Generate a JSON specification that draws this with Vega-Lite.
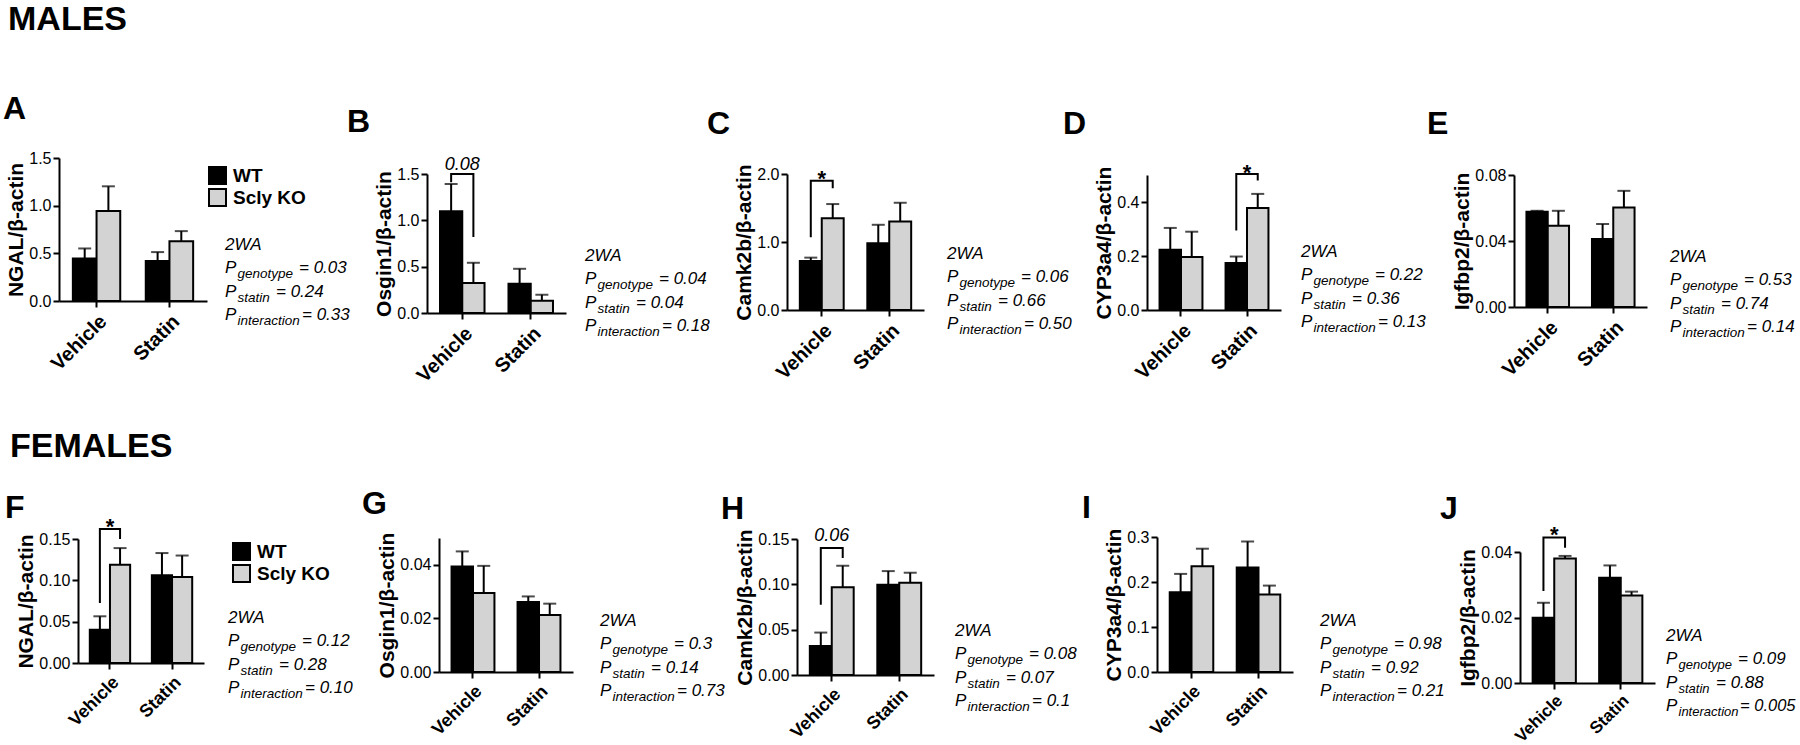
{
"$schema": "https://vega.github.io/schema/vega-lite/v6.json",
"padding": {"left": 3, "top": 2, "right": 0, "bottom": 0},
"spacing": 43,
"resolve": {"scale": {"fill": "independent", "x": "independent", "y": "independent", "xOffset": "independent"}, "legend": {"fill": "independent"}},
"vconcat": [
{
 "title": {"text": "MALES", "anchor": "start", "frame": "group", "dx": -51, "offset": 29.5, "fontSize": 34, "fontWeight": "bold", "baseline": "alphabetic"},
 "bounds": "flush", "spacing": 20,
 "resolve": {"scale": {"fill": "independent", "x": "independent", "y": "independent", "xOffset": "independent"}, "legend": {"fill": "independent"}},
 "hconcat": [
    {"width": 148, "height": 143,
     "title": {"text": "A", "anchor": "start", "frame": "group", "dx": -56, "offset": -1, "fontSize": 32, "fontWeight": "bold", "baseline": "alphabetic"},
     "layer": [
      {"data": {"values": [
       {"cond": "Vehicle", "genotype": "WT", "mean": 0.446, "hi": 0.551},
       {"cond": "Vehicle", "genotype": "Scly KO", "mean": 0.945, "hi": 1.203},
       {"cond": "Statin", "genotype": "WT", "mean": 0.419, "hi": 0.513},
       {"cond": "Statin", "genotype": "Scly KO", "mean": 0.628, "hi": 0.733}]},
       "encoding": {"x": {"field": "cond", "type": "nominal", "scale": {"domain": ["Vehicle", "Statin"], "paddingInner": 0.35, "paddingOuter": 0.19}, "axis": {"title": null}},
        "xOffset": {"field": "genotype", "type": "nominal", "scale": {"domain": ["WT", "Scly KO"], "paddingInner": 0, "paddingOuter": 0}}},
       "layer": [
        {"mark": {"type": "rule", "strokeWidth": 2, "color": "black"}, "encoding": {"y": {"field": "mean", "type": "quantitative", "scale": {"domain": [0, 1.5], "range": [143, 0], "nice": false}}, "y2": {"field": "hi"}}},
        {"mark": {"type": "tick", "orient": "horizontal", "thickness": 2, "size": 13, "color": "black"}, "encoding": {"y": {"field": "hi", "type": "quantitative", "scale": {"domain": [0, 1.5], "range": [143, 0], "nice": false}}}},
        {"mark": {"type": "bar", "stroke": "black", "strokeWidth": 2}, "encoding": {"y": {"field": "mean", "type": "quantitative", "scale": {"domain": [0, 1.5], "range": [143, 0], "nice": false}, "axis": {"title": "NGAL/β-actin", "values": [0, 0.5, 1, 1.5], "format": ".1f"}},
          "fill": {"field": "genotype", "type": "nominal", "scale": {"domain": ["WT", "Scly KO"], "range": ["black", "#d3d3d3"]},
           "legend": {"orient": "none", "legendX": 149, "legendY": 8, "title": null, "padding": 0, "symbolType": "square", "symbolSize": 289, "symbolStrokeColor": "black", "symbolStrokeWidth": 2, "labelFontSize": 19, "labelFontWeight": "bold", "labelColor": "black", "rowPadding": -3, "labelOffset": 6}}}}
       ]}
     ]},
    {"width": 180, "height": 143,
     "data": {"values": [
       {"line": "2WA", "head": "2WA"},
       {"line": "genotype", "head": "P", "sub": "genotype", "val": "= 0.03"},
       {"line": "statin", "head": "P", "sub": "statin", "val": "= 0.24"},
       {"line": "interaction", "head": "P", "sub": "interaction", "val": "= 0.33"}]},
     "encoding": {"y": {"field": "line", "type": "ordinal", "scale": {"type": "point", "domain": ["2WA", "genotype", "statin", "interaction"], "range": [92, 162], "padding": 0}, "axis": null}},
     "layer": [
      {"mark": {"type": "text", "x": -2, "align": "left", "baseline": "alphabetic", "fontSize": 17, "fontStyle": "italic"}, "encoding": {"text": {"field": "head"}}},
      {"transform": [{"filter": "datum.sub"}], "mark": {"type": "text", "x": -2, "dx": 12.5, "dy": 5, "align": "left", "baseline": "alphabetic", "fontSize": 13.5, "fontStyle": "italic"}, "encoding": {"text": {"field": "sub"}}},
      {"transform": [{"filter": "datum.line === 'genotype'"}], "mark": {"type": "text", "x": -2, "dx": 74, "align": "left", "baseline": "alphabetic", "fontSize": 17, "fontStyle": "italic"}, "encoding": {"text": {"field": "val"}}},
      {"transform": [{"filter": "datum.line === 'statin'"}], "mark": {"type": "text", "x": -2, "dx": 51, "align": "left", "baseline": "alphabetic", "fontSize": 17, "fontStyle": "italic"}, "encoding": {"text": {"field": "val"}}},
      {"transform": [{"filter": "datum.line === 'interaction'"}], "mark": {"type": "text", "x": -2, "dx": 77, "align": "left", "baseline": "alphabetic", "fontSize": 17, "fontStyle": "italic"}, "encoding": {"text": {"field": "val"}}}
     ]},
    {"width": 139, "height": 155,
     "title": {"text": "B", "anchor": "start", "frame": "group", "dx": -80, "offset": -8, "fontSize": 32, "fontWeight": "bold", "baseline": "alphabetic"},
     "layer": [
      {"data": {"values": [
       {"cond": "Vehicle", "genotype": "WT", "mean": 1.098, "hi": 1.392},
       {"cond": "Vehicle", "genotype": "Scly KO", "mean": 0.323, "hi": 0.542},
       {"cond": "Statin", "genotype": "WT", "mean": 0.316, "hi": 0.477},
       {"cond": "Statin", "genotype": "Scly KO", "mean": 0.133, "hi": 0.197}]},
       "encoding": {"x": {"field": "cond", "type": "nominal", "scale": {"domain": ["Vehicle", "Statin"], "paddingInner": 0.35, "paddingOuter": 0.19}, "axis": {"title": null}},
        "xOffset": {"field": "genotype", "type": "nominal", "scale": {"domain": ["WT", "Scly KO"], "paddingInner": 0, "paddingOuter": 0}}},
       "layer": [
        {"mark": {"type": "rule", "strokeWidth": 2, "color": "black"}, "encoding": {"y": {"field": "mean", "type": "quantitative", "scale": {"domain": [0, 1.5], "range": [155, 16], "nice": false}}, "y2": {"field": "hi"}}},
        {"mark": {"type": "tick", "orient": "horizontal", "thickness": 2, "size": 13, "color": "black"}, "encoding": {"y": {"field": "hi", "type": "quantitative", "scale": {"domain": [0, 1.5], "range": [155, 16], "nice": false}}}},
        {"mark": {"type": "bar", "stroke": "black", "strokeWidth": 2}, "encoding": {"y": {"field": "mean", "type": "quantitative", "scale": {"domain": [0, 1.5], "range": [155, 16], "nice": false}, "axis": {"title": "Osgin1/β-actin", "values": [0, 0.5, 1, 1.5], "format": ".1f"}},
          "fill": {"field": "genotype", "type": "nominal", "scale": {"domain": ["WT", "Scly KO"], "range": ["black", "#d3d3d3"]}, "legend": null}}}
       ]},
      {"data": {"values": [
         {"cond": "Vehicle", "genotype": "WT", "y": 1.41, "k": 1},
         {"cond": "Vehicle", "genotype": "WT", "y": 1.5, "k": 2},
         {"cond": "Vehicle", "genotype": "Scly KO", "y": 1.5, "k": 3},
         {"cond": "Vehicle", "genotype": "Scly KO", "y": 0.82, "k": 4}]},
       "mark": {"type": "line", "strokeWidth": 2, "color": "black"},
       "encoding": {"x": {"field": "cond", "type": "nominal", "scale": {"domain": ["Vehicle", "Statin"], "paddingInner": 0.35, "paddingOuter": 0.19}, "axis": {"title": null}},
        "xOffset": {"field": "genotype", "type": "nominal", "scale": {"domain": ["WT", "Scly KO"], "paddingInner": 0, "paddingOuter": 0}},
        "y": {"field": "y", "type": "quantitative", "scale": {"domain": [0, 1.5], "range": [155, 16], "nice": false}},
        "order": {"field": "k"}}},
      {"data": {"values": [{"cond": "Vehicle", "label": "0.08", "y": 1.54}]},
       "mark": {"type": "text", "fontSize": 18, "fontStyle": "italic", "baseline": "alphabetic"},
       "encoding": {"x": {"field": "cond", "type": "nominal", "scale": {"domain": ["Vehicle", "Statin"], "paddingInner": 0.35, "paddingOuter": 0.19}, "axis": {"title": null}},
        "y": {"field": "y", "type": "quantitative", "scale": {"domain": [0, 1.5], "range": [155, 16], "nice": false}},
        "text": {"field": "label"}}}
     ]},
    {"width": 181, "height": 155,
     "data": {"values": [
       {"line": "2WA", "head": "2WA"},
       {"line": "genotype", "head": "P", "sub": "genotype", "val": "= 0.04"},
       {"line": "statin", "head": "P", "sub": "statin", "val": "= 0.04"},
       {"line": "interaction", "head": "P", "sub": "interaction", "val": "= 0.18"}]},
     "encoding": {"y": {"field": "line", "type": "ordinal", "scale": {"type": "point", "domain": ["2WA", "genotype", "statin", "interaction"], "range": [103, 173], "padding": 0}, "axis": null}},
     "layer": [
      {"mark": {"type": "text", "x": -1, "align": "left", "baseline": "alphabetic", "fontSize": 17, "fontStyle": "italic"}, "encoding": {"text": {"field": "head"}}},
      {"transform": [{"filter": "datum.sub"}], "mark": {"type": "text", "x": -1, "dx": 12.5, "dy": 5, "align": "left", "baseline": "alphabetic", "fontSize": 13.5, "fontStyle": "italic"}, "encoding": {"text": {"field": "sub"}}},
      {"transform": [{"filter": "datum.line === 'genotype'"}], "mark": {"type": "text", "x": -1, "dx": 74, "align": "left", "baseline": "alphabetic", "fontSize": 17, "fontStyle": "italic"}, "encoding": {"text": {"field": "val"}}},
      {"transform": [{"filter": "datum.line === 'statin'"}], "mark": {"type": "text", "x": -1, "dx": 51, "align": "left", "baseline": "alphabetic", "fontSize": 17, "fontStyle": "italic"}, "encoding": {"text": {"field": "val"}}},
      {"transform": [{"filter": "datum.line === 'interaction'"}], "mark": {"type": "text", "x": -1, "dx": 77, "align": "left", "baseline": "alphabetic", "fontSize": 17, "fontStyle": "italic"}, "encoding": {"text": {"field": "val"}}}
     ]},
    {"width": 137, "height": 152,
     "title": {"text": "C", "anchor": "start", "frame": "group", "dx": -80, "offset": -8, "fontSize": 32, "fontWeight": "bold", "baseline": "alphabetic"},
     "layer": [
      {"data": {"values": [
       {"cond": "Vehicle", "genotype": "WT", "mean": 0.722, "hi": 0.77},
       {"cond": "Vehicle", "genotype": "Scly KO", "mean": 1.351, "hi": 1.558},
       {"cond": "Statin", "genotype": "WT", "mean": 0.983, "hi": 1.253},
       {"cond": "Statin", "genotype": "Scly KO", "mean": 1.302, "hi": 1.577}]},
       "encoding": {"x": {"field": "cond", "type": "nominal", "scale": {"domain": ["Vehicle", "Statin"], "paddingInner": 0.35, "paddingOuter": 0.19}, "axis": {"title": null}},
        "xOffset": {"field": "genotype", "type": "nominal", "scale": {"domain": ["WT", "Scly KO"], "paddingInner": 0, "paddingOuter": 0}}},
       "layer": [
        {"mark": {"type": "rule", "strokeWidth": 2, "color": "black"}, "encoding": {"y": {"field": "mean", "type": "quantitative", "scale": {"domain": [0, 2], "range": [152, 16], "nice": false}}, "y2": {"field": "hi"}}},
        {"mark": {"type": "tick", "orient": "horizontal", "thickness": 2, "size": 13, "color": "black"}, "encoding": {"y": {"field": "hi", "type": "quantitative", "scale": {"domain": [0, 2], "range": [152, 16], "nice": false}}}},
        {"mark": {"type": "bar", "stroke": "black", "strokeWidth": 2}, "encoding": {"y": {"field": "mean", "type": "quantitative", "scale": {"domain": [0, 2], "range": [152, 16], "nice": false}, "axis": {"title": "Camk2b/β-actin", "values": [0, 0.5, 1, 1.5, 2], "format": ".1f"}},
          "fill": {"field": "genotype", "type": "nominal", "scale": {"domain": ["WT", "Scly KO"], "range": ["black", "#d3d3d3"]}, "legend": null}}}
       ]},
      {"data": {"values": [
         {"cond": "Vehicle", "genotype": "WT", "y": 1.07, "k": 1},
         {"cond": "Vehicle", "genotype": "WT", "y": 1.9, "k": 2},
         {"cond": "Vehicle", "genotype": "Scly KO", "y": 1.9, "k": 3},
         {"cond": "Vehicle", "genotype": "Scly KO", "y": 1.79, "k": 4}]},
       "mark": {"type": "line", "strokeWidth": 2, "color": "black"},
       "encoding": {"x": {"field": "cond", "type": "nominal", "scale": {"domain": ["Vehicle", "Statin"], "paddingInner": 0.35, "paddingOuter": 0.19}, "axis": {"title": null}},
        "xOffset": {"field": "genotype", "type": "nominal", "scale": {"domain": ["WT", "Scly KO"], "paddingInner": 0, "paddingOuter": 0}},
        "y": {"field": "y", "type": "quantitative", "scale": {"domain": [0, 2], "range": [152, 16], "nice": false}},
        "order": {"field": "k"}}},
      {"data": {"values": [{"cond": "Vehicle", "label": "*", "y": 1.82}]},
       "mark": {"type": "text", "fontSize": 22, "fontWeight": "bold", "baseline": "alphabetic"},
       "encoding": {"x": {"field": "cond", "type": "nominal", "scale": {"domain": ["Vehicle", "Statin"], "paddingInner": 0.35, "paddingOuter": 0.19}, "axis": {"title": null}},
        "y": {"field": "y", "type": "quantitative", "scale": {"domain": [0, 2], "range": [152, 16], "nice": false}},
        "text": {"field": "label"}}}
     ]},
    {"width": 183, "height": 152,
     "data": {"values": [
       {"line": "2WA", "head": "2WA"},
       {"line": "genotype", "head": "P", "sub": "genotype", "val": "= 0.06"},
       {"line": "statin", "head": "P", "sub": "statin", "val": "= 0.66"},
       {"line": "interaction", "head": "P", "sub": "interaction", "val": "= 0.50"}]},
     "encoding": {"y": {"field": "line", "type": "ordinal", "scale": {"type": "point", "domain": ["2WA", "genotype", "statin", "interaction"], "range": [101, 171], "padding": 0}, "axis": null}},
     "layer": [
      {"mark": {"type": "text", "x": 3, "align": "left", "baseline": "alphabetic", "fontSize": 17, "fontStyle": "italic"}, "encoding": {"text": {"field": "head"}}},
      {"transform": [{"filter": "datum.sub"}], "mark": {"type": "text", "x": 3, "dx": 12.5, "dy": 5, "align": "left", "baseline": "alphabetic", "fontSize": 13.5, "fontStyle": "italic"}, "encoding": {"text": {"field": "sub"}}},
      {"transform": [{"filter": "datum.line === 'genotype'"}], "mark": {"type": "text", "x": 3, "dx": 74, "align": "left", "baseline": "alphabetic", "fontSize": 17, "fontStyle": "italic"}, "encoding": {"text": {"field": "val"}}},
      {"transform": [{"filter": "datum.line === 'statin'"}], "mark": {"type": "text", "x": 3, "dx": 51, "align": "left", "baseline": "alphabetic", "fontSize": 17, "fontStyle": "italic"}, "encoding": {"text": {"field": "val"}}},
      {"transform": [{"filter": "datum.line === 'interaction'"}], "mark": {"type": "text", "x": 3, "dx": 77, "align": "left", "baseline": "alphabetic", "fontSize": 17, "fontStyle": "italic"}, "encoding": {"text": {"field": "val"}}}
     ]},
    {"width": 134, "height": 152,
     "title": {"text": "D", "anchor": "start", "frame": "group", "dx": -84, "offset": -8, "fontSize": 32, "fontWeight": "bold", "baseline": "alphabetic"},
     "layer": [
      {"data": {"values": [
       {"cond": "Vehicle", "genotype": "WT", "mean": 0.223, "hi": 0.304},
       {"cond": "Vehicle", "genotype": "Scly KO", "mean": 0.196, "hi": 0.29},
       {"cond": "Statin", "genotype": "WT", "mean": 0.174, "hi": 0.198},
       {"cond": "Statin", "genotype": "Scly KO", "mean": 0.378, "hi": 0.43}]},
       "encoding": {"x": {"field": "cond", "type": "nominal", "scale": {"domain": ["Vehicle", "Statin"], "paddingInner": 0.35, "paddingOuter": 0.19}, "axis": {"title": null}},
        "xOffset": {"field": "genotype", "type": "nominal", "scale": {"domain": ["WT", "Scly KO"], "paddingInner": 0, "paddingOuter": 0}}},
       "layer": [
        {"mark": {"type": "rule", "strokeWidth": 2, "color": "black"}, "encoding": {"y": {"field": "mean", "type": "quantitative", "scale": {"domain": [0, 0.5], "range": [152, 17], "nice": false}}, "y2": {"field": "hi"}}},
        {"mark": {"type": "tick", "orient": "horizontal", "thickness": 2, "size": 13, "color": "black"}, "encoding": {"y": {"field": "hi", "type": "quantitative", "scale": {"domain": [0, 0.5], "range": [152, 17], "nice": false}}}},
        {"mark": {"type": "bar", "stroke": "black", "strokeWidth": 2}, "encoding": {"y": {"field": "mean", "type": "quantitative", "scale": {"domain": [0, 0.5], "range": [152, 17], "nice": false}, "axis": {"title": "CYP3a4/β-actin", "values": [0, 0.2, 0.4], "format": ".1f"}},
          "fill": {"field": "genotype", "type": "nominal", "scale": {"domain": ["WT", "Scly KO"], "range": ["black", "#d3d3d3"]}, "legend": null}}}
       ]},
      {"data": {"values": [
         {"cond": "Statin", "genotype": "WT", "y": 0.294, "k": 1},
         {"cond": "Statin", "genotype": "WT", "y": 0.504, "k": 2},
         {"cond": "Statin", "genotype": "Scly KO", "y": 0.504, "k": 3},
         {"cond": "Statin", "genotype": "Scly KO", "y": 0.48, "k": 4}]},
       "mark": {"type": "line", "strokeWidth": 2, "color": "black"},
       "encoding": {"x": {"field": "cond", "type": "nominal", "scale": {"domain": ["Vehicle", "Statin"], "paddingInner": 0.35, "paddingOuter": 0.19}, "axis": {"title": null}},
        "xOffset": {"field": "genotype", "type": "nominal", "scale": {"domain": ["WT", "Scly KO"], "paddingInner": 0, "paddingOuter": 0}},
        "y": {"field": "y", "type": "quantitative", "scale": {"domain": [0, 0.5], "range": [152, 17], "nice": false}},
        "order": {"field": "k"}}},
      {"data": {"values": [{"cond": "Statin", "label": "*", "y": 0.48}]},
       "mark": {"type": "text", "fontSize": 22, "fontWeight": "bold", "baseline": "alphabetic"},
       "encoding": {"x": {"field": "cond", "type": "nominal", "scale": {"domain": ["Vehicle", "Statin"], "paddingInner": 0.35, "paddingOuter": 0.19}, "axis": {"title": null}},
        "y": {"field": "y", "type": "quantitative", "scale": {"domain": [0, 0.5], "range": [152, 17], "nice": false}},
        "text": {"field": "label"}}}
     ]},
    {"width": 193, "height": 152,
     "data": {"values": [
       {"line": "2WA", "head": "2WA"},
       {"line": "genotype", "head": "P", "sub": "genotype", "val": "= 0.22"},
       {"line": "statin", "head": "P", "sub": "statin", "val": "= 0.36"},
       {"line": "interaction", "head": "P", "sub": "interaction", "val": "= 0.13"}]},
     "encoding": {"y": {"field": "line", "type": "ordinal", "scale": {"type": "point", "domain": ["2WA", "genotype", "statin", "interaction"], "range": [99, 169], "padding": 0}, "axis": null}},
     "layer": [
      {"mark": {"type": "text", "x": 0, "align": "left", "baseline": "alphabetic", "fontSize": 17, "fontStyle": "italic"}, "encoding": {"text": {"field": "head"}}},
      {"transform": [{"filter": "datum.sub"}], "mark": {"type": "text", "x": 0, "dx": 12.5, "dy": 5, "align": "left", "baseline": "alphabetic", "fontSize": 13.5, "fontStyle": "italic"}, "encoding": {"text": {"field": "sub"}}},
      {"transform": [{"filter": "datum.line === 'genotype'"}], "mark": {"type": "text", "x": 0, "dx": 74, "align": "left", "baseline": "alphabetic", "fontSize": 17, "fontStyle": "italic"}, "encoding": {"text": {"field": "val"}}},
      {"transform": [{"filter": "datum.line === 'statin'"}], "mark": {"type": "text", "x": 0, "dx": 51, "align": "left", "baseline": "alphabetic", "fontSize": 17, "fontStyle": "italic"}, "encoding": {"text": {"field": "val"}}},
      {"transform": [{"filter": "datum.line === 'interaction'"}], "mark": {"type": "text", "x": 0, "dx": 77, "align": "left", "baseline": "alphabetic", "fontSize": 17, "fontStyle": "italic"}, "encoding": {"text": {"field": "val"}}}
     ]},
    {"width": 133, "height": 149,
     "title": {"text": "E", "anchor": "start", "frame": "group", "dx": -87, "offset": -8, "fontSize": 32, "fontWeight": "bold", "baseline": "alphabetic"},
     "layer": [
      {"data": {"values": [
       {"cond": "Vehicle", "genotype": "WT", "mean": 0.0577, "hi": 0.0583},
       {"cond": "Vehicle", "genotype": "Scly KO", "mean": 0.0492, "hi": 0.0583},
       {"cond": "Statin", "genotype": "WT", "mean": 0.0412, "hi": 0.0503},
       {"cond": "Statin", "genotype": "Scly KO", "mean": 0.0603, "hi": 0.0704}]},
       "encoding": {"x": {"field": "cond", "type": "nominal", "scale": {"domain": ["Vehicle", "Statin"], "paddingInner": 0.35, "paddingOuter": 0.19}, "axis": {"title": null}},
        "xOffset": {"field": "genotype", "type": "nominal", "scale": {"domain": ["WT", "Scly KO"], "paddingInner": 0, "paddingOuter": 0}}},
       "layer": [
        {"mark": {"type": "rule", "strokeWidth": 2, "color": "black"}, "encoding": {"y": {"field": "mean", "type": "quantitative", "scale": {"domain": [0, 0.08], "range": [149, 17], "nice": false}}, "y2": {"field": "hi"}}},
        {"mark": {"type": "tick", "orient": "horizontal", "thickness": 2, "size": 13, "color": "black"}, "encoding": {"y": {"field": "hi", "type": "quantitative", "scale": {"domain": [0, 0.08], "range": [149, 17], "nice": false}}}},
        {"mark": {"type": "bar", "stroke": "black", "strokeWidth": 2}, "encoding": {"y": {"field": "mean", "type": "quantitative", "scale": {"domain": [0, 0.08], "range": [149, 17], "nice": false}, "axis": {"title": "Igfbp2/β-actin", "values": [0, 0.02, 0.04, 0.06, 0.08], "format": ".2f"}},
          "fill": {"field": "genotype", "type": "nominal", "scale": {"domain": ["WT", "Scly KO"], "range": ["black", "#d3d3d3"]}, "legend": null}}}
       ]}
     ]},
    {"width": 120, "height": 149,
     "data": {"values": [
       {"line": "2WA", "head": "2WA"},
       {"line": "genotype", "head": "P", "sub": "genotype", "val": "= 0.53"},
       {"line": "statin", "head": "P", "sub": "statin", "val": "= 0.74"},
       {"line": "interaction", "head": "P", "sub": "interaction", "val": "= 0.14"}]},
     "encoding": {"y": {"field": "line", "type": "ordinal", "scale": {"type": "point", "domain": ["2WA", "genotype", "statin", "interaction"], "range": [104, 174], "padding": 0}, "axis": null}},
     "layer": [
      {"mark": {"type": "text", "x": 3, "align": "left", "baseline": "alphabetic", "fontSize": 17, "fontStyle": "italic"}, "encoding": {"text": {"field": "head"}}},
      {"transform": [{"filter": "datum.sub"}], "mark": {"type": "text", "x": 3, "dx": 12.5, "dy": 5, "align": "left", "baseline": "alphabetic", "fontSize": 13.5, "fontStyle": "italic"}, "encoding": {"text": {"field": "sub"}}},
      {"transform": [{"filter": "datum.line === 'genotype'"}], "mark": {"type": "text", "x": 3, "dx": 74, "align": "left", "baseline": "alphabetic", "fontSize": 17, "fontStyle": "italic"}, "encoding": {"text": {"field": "val"}}},
      {"transform": [{"filter": "datum.line === 'statin'"}], "mark": {"type": "text", "x": 3, "dx": 51, "align": "left", "baseline": "alphabetic", "fontSize": 17, "fontStyle": "italic"}, "encoding": {"text": {"field": "val"}}},
      {"transform": [{"filter": "datum.line === 'interaction'"}], "mark": {"type": "text", "x": 3, "dx": 77, "align": "left", "baseline": "alphabetic", "fontSize": 17, "fontStyle": "italic"}, "encoding": {"text": {"field": "val"}}}
     ]}
 ]
},
{
 "title": {"text": "FEMALES", "anchor": "start", "frame": "group", "dx": -49, "offset": -2.5, "fontSize": 34, "fontWeight": "bold", "baseline": "alphabetic"},
 "bounds": "flush", "spacing": 10,
 "resolve": {"scale": {"fill": "independent", "x": "independent", "y": "independent", "xOffset": "independent"}, "legend": {"fill": "independent"}},
 "hconcat": [
    {"width": 9, "height": 10, "data": {"values": [{"spacer": ""}]}, "mark": {"type": "text"}, "encoding": {"text": {"field": "spacer"}}},
    {"width": 126, "height": 126,
     "title": {"text": "F", "anchor": "start", "frame": "group", "dx": -73, "offset": -34, "fontSize": 32, "fontWeight": "bold", "baseline": "alphabetic"},
     "layer": [
      {"data": {"values": [
       {"cond": "Vehicle", "genotype": "WT", "mean": 0.0403, "hi": 0.0565},
       {"cond": "Vehicle", "genotype": "Scly KO", "mean": 0.119, "hi": 0.139},
       {"cond": "Statin", "genotype": "WT", "mean": 0.106, "hi": 0.133},
       {"cond": "Statin", "genotype": "Scly KO", "mean": 0.104, "hi": 0.13}]},
       "encoding": {"x": {"field": "cond", "type": "nominal", "scale": {"domain": ["Vehicle", "Statin"], "paddingInner": 0.35, "paddingOuter": 0.19}, "axis": {"title": null, "labelFontSize": 18}},
        "xOffset": {"field": "genotype", "type": "nominal", "scale": {"domain": ["WT", "Scly KO"], "paddingInner": 0, "paddingOuter": 0}}},
       "layer": [
        {"mark": {"type": "rule", "strokeWidth": 2, "color": "black"}, "encoding": {"y": {"field": "mean", "type": "quantitative", "scale": {"domain": [0, 0.15], "range": [126, 2], "nice": false}}, "y2": {"field": "hi"}}},
        {"mark": {"type": "tick", "orient": "horizontal", "thickness": 2, "size": 13, "color": "black"}, "encoding": {"y": {"field": "hi", "type": "quantitative", "scale": {"domain": [0, 0.15], "range": [126, 2], "nice": false}}}},
        {"mark": {"type": "bar", "stroke": "black", "strokeWidth": 2}, "encoding": {"y": {"field": "mean", "type": "quantitative", "scale": {"domain": [0, 0.15], "range": [126, 2], "nice": false}, "axis": {"title": "NGAL/β-actin", "values": [0, 0.05, 0.1, 0.15], "format": ".2f"}},
          "fill": {"field": "genotype", "type": "nominal", "scale": {"domain": ["WT", "Scly KO"], "range": ["black", "#d3d3d3"]},
           "legend": {"orient": "none", "legendX": 154, "legendY": 5, "title": null, "padding": 0, "symbolType": "square", "symbolSize": 289, "symbolStrokeColor": "black", "symbolStrokeWidth": 2, "labelFontSize": 19, "labelFontWeight": "bold", "labelColor": "black", "rowPadding": -3, "labelOffset": 6}}}}
       ]},
      {"data": {"values": [
         {"cond": "Vehicle", "genotype": "WT", "y": 0.0726, "k": 1},
         {"cond": "Vehicle", "genotype": "WT", "y": 0.162, "k": 2},
         {"cond": "Vehicle", "genotype": "Scly KO", "y": 0.162, "k": 3},
         {"cond": "Vehicle", "genotype": "Scly KO", "y": 0.15, "k": 4}]},
       "mark": {"type": "line", "strokeWidth": 2, "color": "black"},
       "encoding": {"x": {"field": "cond", "type": "nominal", "scale": {"domain": ["Vehicle", "Statin"], "paddingInner": 0.35, "paddingOuter": 0.19}, "axis": {"title": null}},
        "xOffset": {"field": "genotype", "type": "nominal", "scale": {"domain": ["WT", "Scly KO"], "paddingInner": 0, "paddingOuter": 0}},
        "y": {"field": "y", "type": "quantitative", "scale": {"domain": [0, 0.15], "range": [126, 2], "nice": false}},
        "order": {"field": "k"}}},
      {"data": {"values": [{"cond": "Vehicle", "label": "*", "y": 0.156}]},
       "mark": {"type": "text", "fontSize": 22, "fontWeight": "bold", "baseline": "alphabetic"},
       "encoding": {"x": {"field": "cond", "type": "nominal", "scale": {"domain": ["Vehicle", "Statin"], "paddingInner": 0.35, "paddingOuter": 0.19}, "axis": {"title": null}},
        "y": {"field": "y", "type": "quantitative", "scale": {"domain": [0, 0.15], "range": [126, 2], "nice": false}},
        "text": {"field": "label"}}}
     ]},
    {"width": 215, "height": 126,
     "data": {"values": [
       {"line": "2WA", "head": "2WA"},
       {"line": "genotype", "head": "P", "sub": "genotype", "val": "= 0.12"},
       {"line": "statin", "head": "P", "sub": "statin", "val": "= 0.28"},
       {"line": "interaction", "head": "P", "sub": "interaction", "val": "= 0.10"}]},
     "encoding": {"y": {"field": "line", "type": "ordinal", "scale": {"type": "point", "domain": ["2WA", "genotype", "statin", "interaction"], "range": [86, 156], "padding": 0}, "axis": null}},
     "layer": [
      {"mark": {"type": "text", "x": 14, "align": "left", "baseline": "alphabetic", "fontSize": 17, "fontStyle": "italic"}, "encoding": {"text": {"field": "head"}}},
      {"transform": [{"filter": "datum.sub"}], "mark": {"type": "text", "x": 14, "dx": 12.5, "dy": 5, "align": "left", "baseline": "alphabetic", "fontSize": 13.5, "fontStyle": "italic"}, "encoding": {"text": {"field": "sub"}}},
      {"transform": [{"filter": "datum.line === 'genotype'"}], "mark": {"type": "text", "x": 14, "dx": 74, "align": "left", "baseline": "alphabetic", "fontSize": 17, "fontStyle": "italic"}, "encoding": {"text": {"field": "val"}}},
      {"transform": [{"filter": "datum.line === 'statin'"}], "mark": {"type": "text", "x": 14, "dx": 51, "align": "left", "baseline": "alphabetic", "fontSize": 17, "fontStyle": "italic"}, "encoding": {"text": {"field": "val"}}},
      {"transform": [{"filter": "datum.line === 'interaction'"}], "mark": {"type": "text", "x": 14, "dx": 77, "align": "left", "baseline": "alphabetic", "fontSize": 17, "fontStyle": "italic"}, "encoding": {"text": {"field": "val"}}}
     ]},
    {"width": 134, "height": 135,
     "title": {"text": "G", "anchor": "start", "frame": "group", "dx": -77, "offset": -14, "fontSize": 32, "fontWeight": "bold", "baseline": "alphabetic"},
     "layer": [
      {"data": {"values": [
       {"cond": "Vehicle", "genotype": "WT", "mean": 0.0394, "hi": 0.045},
       {"cond": "Vehicle", "genotype": "Scly KO", "mean": 0.0295, "hi": 0.0396},
       {"cond": "Statin", "genotype": "WT", "mean": 0.0261, "hi": 0.0282},
       {"cond": "Statin", "genotype": "Scly KO", "mean": 0.0213, "hi": 0.0255}]},
       "encoding": {"x": {"field": "cond", "type": "nominal", "scale": {"domain": ["Vehicle", "Statin"], "paddingInner": 0.35, "paddingOuter": 0.19}, "axis": {"title": null, "labelFontSize": 18}},
        "xOffset": {"field": "genotype", "type": "nominal", "scale": {"domain": ["WT", "Scly KO"], "paddingInner": 0, "paddingOuter": 0}}},
       "layer": [
        {"mark": {"type": "rule", "strokeWidth": 2, "color": "black"}, "encoding": {"y": {"field": "mean", "type": "quantitative", "scale": {"domain": [0, 0.05], "range": [135, 1], "nice": false}}, "y2": {"field": "hi"}}},
        {"mark": {"type": "tick", "orient": "horizontal", "thickness": 2, "size": 13, "color": "black"}, "encoding": {"y": {"field": "hi", "type": "quantitative", "scale": {"domain": [0, 0.05], "range": [135, 1], "nice": false}}}},
        {"mark": {"type": "bar", "stroke": "black", "strokeWidth": 2}, "encoding": {"y": {"field": "mean", "type": "quantitative", "scale": {"domain": [0, 0.05], "range": [135, 1], "nice": false}, "axis": {"title": "Osgin1/β-actin", "values": [0, 0.02, 0.04], "format": ".2f"}},
          "fill": {"field": "genotype", "type": "nominal", "scale": {"domain": ["WT", "Scly KO"], "range": ["black", "#d3d3d3"]}, "legend": null}}}
       ]}
     ]},
    {"width": 204, "height": 135,
     "data": {"values": [
       {"line": "2WA", "head": "2WA"},
       {"line": "genotype", "head": "P", "sub": "genotype", "val": "= 0.3"},
       {"line": "statin", "head": "P", "sub": "statin", "val": "= 0.14"},
       {"line": "interaction", "head": "P", "sub": "interaction", "val": "= 0.73"}]},
     "encoding": {"y": {"field": "line", "type": "ordinal", "scale": {"type": "point", "domain": ["2WA", "genotype", "statin", "interaction"], "range": [89, 159], "padding": 0}, "axis": null}},
     "layer": [
      {"mark": {"type": "text", "x": 17, "align": "left", "baseline": "alphabetic", "fontSize": 17, "fontStyle": "italic"}, "encoding": {"text": {"field": "head"}}},
      {"transform": [{"filter": "datum.sub"}], "mark": {"type": "text", "x": 17, "dx": 12.5, "dy": 5, "align": "left", "baseline": "alphabetic", "fontSize": 13.5, "fontStyle": "italic"}, "encoding": {"text": {"field": "sub"}}},
      {"transform": [{"filter": "datum.line === 'genotype'"}], "mark": {"type": "text", "x": 17, "dx": 74, "align": "left", "baseline": "alphabetic", "fontSize": 17, "fontStyle": "italic"}, "encoding": {"text": {"field": "val"}}},
      {"transform": [{"filter": "datum.line === 'statin'"}], "mark": {"type": "text", "x": 17, "dx": 51, "align": "left", "baseline": "alphabetic", "fontSize": 17, "fontStyle": "italic"}, "encoding": {"text": {"field": "val"}}},
      {"transform": [{"filter": "datum.line === 'interaction'"}], "mark": {"type": "text", "x": 17, "dx": 77, "align": "left", "baseline": "alphabetic", "fontSize": 17, "fontStyle": "italic"}, "encoding": {"text": {"field": "val"}}}
     ]},
    {"width": 137, "height": 138,
     "title": {"text": "H", "anchor": "start", "frame": "group", "dx": -76, "offset": -24, "fontSize": 32, "fontWeight": "bold", "baseline": "alphabetic"},
     "layer": [
      {"data": {"values": [
       {"cond": "Vehicle", "genotype": "WT", "mean": 0.0321, "hi": 0.0468},
       {"cond": "Vehicle", "genotype": "Scly KO", "mean": 0.0969, "hi": 0.1205},
       {"cond": "Statin", "genotype": "WT", "mean": 0.0995, "hi": 0.1146},
       {"cond": "Statin", "genotype": "Scly KO", "mean": 0.1017, "hi": 0.1128}]},
       "encoding": {"x": {"field": "cond", "type": "nominal", "scale": {"domain": ["Vehicle", "Statin"], "paddingInner": 0.35, "paddingOuter": 0.19}, "axis": {"title": null, "labelFontSize": 18}},
        "xOffset": {"field": "genotype", "type": "nominal", "scale": {"domain": ["WT", "Scly KO"], "paddingInner": 0, "paddingOuter": 0}}},
       "layer": [
        {"mark": {"type": "rule", "strokeWidth": 2, "color": "black"}, "encoding": {"y": {"field": "mean", "type": "quantitative", "scale": {"domain": [0, 0.15], "range": [138, 2], "nice": false}}, "y2": {"field": "hi"}}},
        {"mark": {"type": "tick", "orient": "horizontal", "thickness": 2, "size": 13, "color": "black"}, "encoding": {"y": {"field": "hi", "type": "quantitative", "scale": {"domain": [0, 0.15], "range": [138, 2], "nice": false}}}},
        {"mark": {"type": "bar", "stroke": "black", "strokeWidth": 2}, "encoding": {"y": {"field": "mean", "type": "quantitative", "scale": {"domain": [0, 0.15], "range": [138, 2], "nice": false}, "axis": {"title": "Camk2b/β-actin", "values": [0, 0.05, 0.1, 0.15], "format": ".2f"}},
          "fill": {"field": "genotype", "type": "nominal", "scale": {"domain": ["WT", "Scly KO"], "range": ["black", "#d3d3d3"]}, "legend": null}}}
       ]},
      {"data": {"values": [
         {"cond": "Vehicle", "genotype": "WT", "y": 0.0774, "k": 1},
         {"cond": "Vehicle", "genotype": "WT", "y": 0.14, "k": 2},
         {"cond": "Vehicle", "genotype": "Scly KO", "y": 0.14, "k": 3},
         {"cond": "Vehicle", "genotype": "Scly KO", "y": 0.129, "k": 4}]},
       "mark": {"type": "line", "strokeWidth": 2, "color": "black"},
       "encoding": {"x": {"field": "cond", "type": "nominal", "scale": {"domain": ["Vehicle", "Statin"], "paddingInner": 0.35, "paddingOuter": 0.19}, "axis": {"title": null}},
        "xOffset": {"field": "genotype", "type": "nominal", "scale": {"domain": ["WT", "Scly KO"], "paddingInner": 0, "paddingOuter": 0}},
        "y": {"field": "y", "type": "quantitative", "scale": {"domain": [0, 0.15], "range": [138, 2], "nice": false}},
        "order": {"field": "k"}}},
      {"data": {"values": [{"cond": "Vehicle", "label": "0.06", "y": 0.148}]},
       "mark": {"type": "text", "fontSize": 18, "fontStyle": "italic", "baseline": "alphabetic"},
       "encoding": {"x": {"field": "cond", "type": "nominal", "scale": {"domain": ["Vehicle", "Statin"], "paddingInner": 0.35, "paddingOuter": 0.19}, "axis": {"title": null}},
        "y": {"field": "y", "type": "quantitative", "scale": {"domain": [0, 0.15], "range": [138, 2], "nice": false}},
        "text": {"field": "label"}}}
     ]},
    {"width": 203, "height": 138,
     "data": {"values": [
       {"line": "2WA", "head": "2WA"},
       {"line": "genotype", "head": "P", "sub": "genotype", "val": "= 0.08"},
       {"line": "statin", "head": "P", "sub": "statin", "val": "= 0.07"},
       {"line": "interaction", "head": "P", "sub": "interaction", "val": "= 0.1"}]},
     "encoding": {"y": {"field": "line", "type": "ordinal", "scale": {"type": "point", "domain": ["2WA", "genotype", "statin", "interaction"], "range": [99, 169], "padding": 0}, "axis": null}},
     "layer": [
      {"mark": {"type": "text", "x": 11, "align": "left", "baseline": "alphabetic", "fontSize": 17, "fontStyle": "italic"}, "encoding": {"text": {"field": "head"}}},
      {"transform": [{"filter": "datum.sub"}], "mark": {"type": "text", "x": 11, "dx": 12.5, "dy": 5, "align": "left", "baseline": "alphabetic", "fontSize": 13.5, "fontStyle": "italic"}, "encoding": {"text": {"field": "sub"}}},
      {"transform": [{"filter": "datum.line === 'genotype'"}], "mark": {"type": "text", "x": 11, "dx": 74, "align": "left", "baseline": "alphabetic", "fontSize": 17, "fontStyle": "italic"}, "encoding": {"text": {"field": "val"}}},
      {"transform": [{"filter": "datum.line === 'statin'"}], "mark": {"type": "text", "x": 11, "dx": 51, "align": "left", "baseline": "alphabetic", "fontSize": 17, "fontStyle": "italic"}, "encoding": {"text": {"field": "val"}}},
      {"transform": [{"filter": "datum.line === 'interaction'"}], "mark": {"type": "text", "x": 11, "dx": 77, "align": "left", "baseline": "alphabetic", "fontSize": 17, "fontStyle": "italic"}, "encoding": {"text": {"field": "val"}}}
     ]},
    {"width": 136, "height": 135,
     "title": {"text": "I", "anchor": "start", "frame": "group", "dx": -75, "offset": -22, "fontSize": 32, "fontWeight": "bold", "baseline": "alphabetic"},
     "layer": [
      {"data": {"values": [
       {"cond": "Vehicle", "genotype": "WT", "mean": 0.177, "hi": 0.218},
       {"cond": "Vehicle", "genotype": "Scly KO", "mean": 0.235, "hi": 0.274},
       {"cond": "Statin", "genotype": "WT", "mean": 0.232, "hi": 0.29},
       {"cond": "Statin", "genotype": "Scly KO", "mean": 0.172, "hi": 0.192}]},
       "encoding": {"x": {"field": "cond", "type": "nominal", "scale": {"domain": ["Vehicle", "Statin"], "paddingInner": 0.35, "paddingOuter": 0.19}, "axis": {"title": null, "labelFontSize": 18}},
        "xOffset": {"field": "genotype", "type": "nominal", "scale": {"domain": ["WT", "Scly KO"], "paddingInner": 0, "paddingOuter": 0}}},
       "layer": [
        {"mark": {"type": "rule", "strokeWidth": 2, "color": "black"}, "encoding": {"y": {"field": "mean", "type": "quantitative", "scale": {"domain": [0, 0.3], "range": [135, 0], "nice": false}}, "y2": {"field": "hi"}}},
        {"mark": {"type": "tick", "orient": "horizontal", "thickness": 2, "size": 13, "color": "black"}, "encoding": {"y": {"field": "hi", "type": "quantitative", "scale": {"domain": [0, 0.3], "range": [135, 0], "nice": false}}}},
        {"mark": {"type": "bar", "stroke": "black", "strokeWidth": 2}, "encoding": {"y": {"field": "mean", "type": "quantitative", "scale": {"domain": [0, 0.3], "range": [135, 0], "nice": false}, "axis": {"title": "CYP3a4/β-actin", "values": [0, 0.1, 0.2, 0.3], "format": ".1f"}},
          "fill": {"field": "genotype", "type": "nominal", "scale": {"domain": ["WT", "Scly KO"], "range": ["black", "#d3d3d3"]}, "legend": null}}}
       ]}
     ]},
    {"width": 207, "height": 135,
     "data": {"values": [
       {"line": "2WA", "head": "2WA"},
       {"line": "genotype", "head": "P", "sub": "genotype", "val": "= 0.98"},
       {"line": "statin", "head": "P", "sub": "statin", "val": "= 0.92"},
       {"line": "interaction", "head": "P", "sub": "interaction", "val": "= 0.21"}]},
     "encoding": {"y": {"field": "line", "type": "ordinal", "scale": {"type": "point", "domain": ["2WA", "genotype", "statin", "interaction"], "range": [89, 159], "padding": 0}, "axis": null}},
     "layer": [
      {"mark": {"type": "text", "x": 17, "align": "left", "baseline": "alphabetic", "fontSize": 17, "fontStyle": "italic"}, "encoding": {"text": {"field": "head"}}},
      {"transform": [{"filter": "datum.sub"}], "mark": {"type": "text", "x": 17, "dx": 12.5, "dy": 5, "align": "left", "baseline": "alphabetic", "fontSize": 13.5, "fontStyle": "italic"}, "encoding": {"text": {"field": "sub"}}},
      {"transform": [{"filter": "datum.line === 'genotype'"}], "mark": {"type": "text", "x": 17, "dx": 74, "align": "left", "baseline": "alphabetic", "fontSize": 17, "fontStyle": "italic"}, "encoding": {"text": {"field": "val"}}},
      {"transform": [{"filter": "datum.line === 'statin'"}], "mark": {"type": "text", "x": 17, "dx": 51, "align": "left", "baseline": "alphabetic", "fontSize": 17, "fontStyle": "italic"}, "encoding": {"text": {"field": "val"}}},
      {"transform": [{"filter": "datum.line === 'interaction'"}], "mark": {"type": "text", "x": 17, "dx": 77, "align": "left", "baseline": "alphabetic", "fontSize": 17, "fontStyle": "italic"}, "encoding": {"text": {"field": "val"}}}
     ]},
    {"width": 135, "height": 146,
     "title": {"text": "J", "anchor": "start", "frame": "group", "dx": -80, "offset": -27, "fontSize": 32, "fontWeight": "bold", "baseline": "alphabetic"},
     "layer": [
      {"data": {"values": [
       {"cond": "Vehicle", "genotype": "WT", "mean": 0.0199, "hi": 0.0245},
       {"cond": "Vehicle", "genotype": "Scly KO", "mean": 0.038, "hi": 0.0388},
       {"cond": "Statin", "genotype": "WT", "mean": 0.0321, "hi": 0.0359},
       {"cond": "Statin", "genotype": "Scly KO", "mean": 0.0267, "hi": 0.0279}]},
       "encoding": {"x": {"field": "cond", "type": "nominal", "scale": {"domain": ["Vehicle", "Statin"], "paddingInner": 0.35, "paddingOuter": 0.19}, "axis": {"title": null, "labelFontSize": 17, "labelPadding": 3}},
        "xOffset": {"field": "genotype", "type": "nominal", "scale": {"domain": ["WT", "Scly KO"], "paddingInner": 0, "paddingOuter": 0}}},
       "layer": [
        {"mark": {"type": "rule", "strokeWidth": 2, "color": "black"}, "encoding": {"y": {"field": "mean", "type": "quantitative", "scale": {"domain": [0, 0.04], "range": [146, 15], "nice": false}}, "y2": {"field": "hi"}}},
        {"mark": {"type": "tick", "orient": "horizontal", "thickness": 2, "size": 13, "color": "black"}, "encoding": {"y": {"field": "hi", "type": "quantitative", "scale": {"domain": [0, 0.04], "range": [146, 15], "nice": false}}}},
        {"mark": {"type": "bar", "stroke": "black", "strokeWidth": 2}, "encoding": {"y": {"field": "mean", "type": "quantitative", "scale": {"domain": [0, 0.04], "range": [146, 15], "nice": false}, "axis": {"title": "Igfbp2/β-actin", "values": [0, 0.01, 0.02, 0.03, 0.04], "format": ".2f"}},
          "fill": {"field": "genotype", "type": "nominal", "scale": {"domain": ["WT", "Scly KO"], "range": ["black", "#d3d3d3"]}, "legend": null}}}
       ]},
      {"data": {"values": [
         {"cond": "Vehicle", "genotype": "WT", "y": 0.0281, "k": 1},
         {"cond": "Vehicle", "genotype": "WT", "y": 0.0444, "k": 2},
         {"cond": "Vehicle", "genotype": "Scly KO", "y": 0.0444, "k": 3},
         {"cond": "Vehicle", "genotype": "Scly KO", "y": 0.0413, "k": 4}]},
       "mark": {"type": "line", "strokeWidth": 2, "color": "black"},
       "encoding": {"x": {"field": "cond", "type": "nominal", "scale": {"domain": ["Vehicle", "Statin"], "paddingInner": 0.35, "paddingOuter": 0.19}, "axis": {"title": null}},
        "xOffset": {"field": "genotype", "type": "nominal", "scale": {"domain": ["WT", "Scly KO"], "paddingInner": 0, "paddingOuter": 0}},
        "y": {"field": "y", "type": "quantitative", "scale": {"domain": [0, 0.04], "range": [146, 15], "nice": false}},
        "order": {"field": "k"}}},
      {"data": {"values": [{"cond": "Vehicle", "label": "*", "y": 0.0431}]},
       "mark": {"type": "text", "fontSize": 22, "fontWeight": "bold", "baseline": "alphabetic"},
       "encoding": {"x": {"field": "cond", "type": "nominal", "scale": {"domain": ["Vehicle", "Statin"], "paddingInner": 0.35, "paddingOuter": 0.19}, "axis": {"title": null}},
        "y": {"field": "y", "type": "quantitative", "scale": {"domain": [0, 0.04], "range": [146, 15], "nice": false}},
        "text": {"field": "label"}}}
     ]},
    {"width": 120, "height": 146,
     "data": {"values": [
       {"line": "2WA", "head": "2WA"},
       {"line": "genotype", "head": "P", "sub": "genotype", "val": "= 0.09"},
       {"line": "statin", "head": "P", "sub": "statin", "val": "= 0.88"},
       {"line": "interaction", "head": "P", "sub": "interaction", "val": "= 0.005"}]},
     "encoding": {"y": {"field": "line", "type": "ordinal", "scale": {"type": "point", "domain": ["2WA", "genotype", "statin", "interaction"], "range": [104, 174], "padding": 0}, "axis": null}},
     "layer": [
      {"mark": {"type": "text", "x": 1, "align": "left", "baseline": "alphabetic", "fontSize": 17, "fontStyle": "italic"}, "encoding": {"text": {"field": "head"}}},
      {"transform": [{"filter": "datum.sub"}], "mark": {"type": "text", "x": 1, "dx": 12.5, "dy": 5, "align": "left", "baseline": "alphabetic", "fontSize": 13, "fontStyle": "italic"}, "encoding": {"text": {"field": "sub"}}},
      {"transform": [{"filter": "datum.line === 'genotype'"}], "mark": {"type": "text", "x": 1, "dx": 72, "align": "left", "baseline": "alphabetic", "fontSize": 17, "fontStyle": "italic"}, "encoding": {"text": {"field": "val"}}},
      {"transform": [{"filter": "datum.line === 'statin'"}], "mark": {"type": "text", "x": 1, "dx": 50, "align": "left", "baseline": "alphabetic", "fontSize": 17, "fontStyle": "italic"}, "encoding": {"text": {"field": "val"}}},
      {"transform": [{"filter": "datum.line === 'interaction'"}], "mark": {"type": "text", "x": 1, "dx": 74, "align": "left", "baseline": "alphabetic", "fontSize": 16.5, "fontStyle": "italic"}, "encoding": {"text": {"field": "val"}}}
     ]}
 ]
}
],
"config": {
 "font": "Liberation Sans",
 "view": {"stroke": null},
 "axis": {"domainColor": "black", "domainWidth": 2, "tickColor": "black", "tickWidth": 2, "tickSize": 6, "labelColor": "black", "labelFontSize": 16, "titleColor": "black", "titleFontSize": 21, "titleFontWeight": "bold", "titlePadding": 2, "grid": false},
 "axisX": {"labelAngle": -45, "labelFontWeight": "bold", "labelFontSize": 20, "labelPadding": 4},
 "title": {"color": "black"}
}
}
